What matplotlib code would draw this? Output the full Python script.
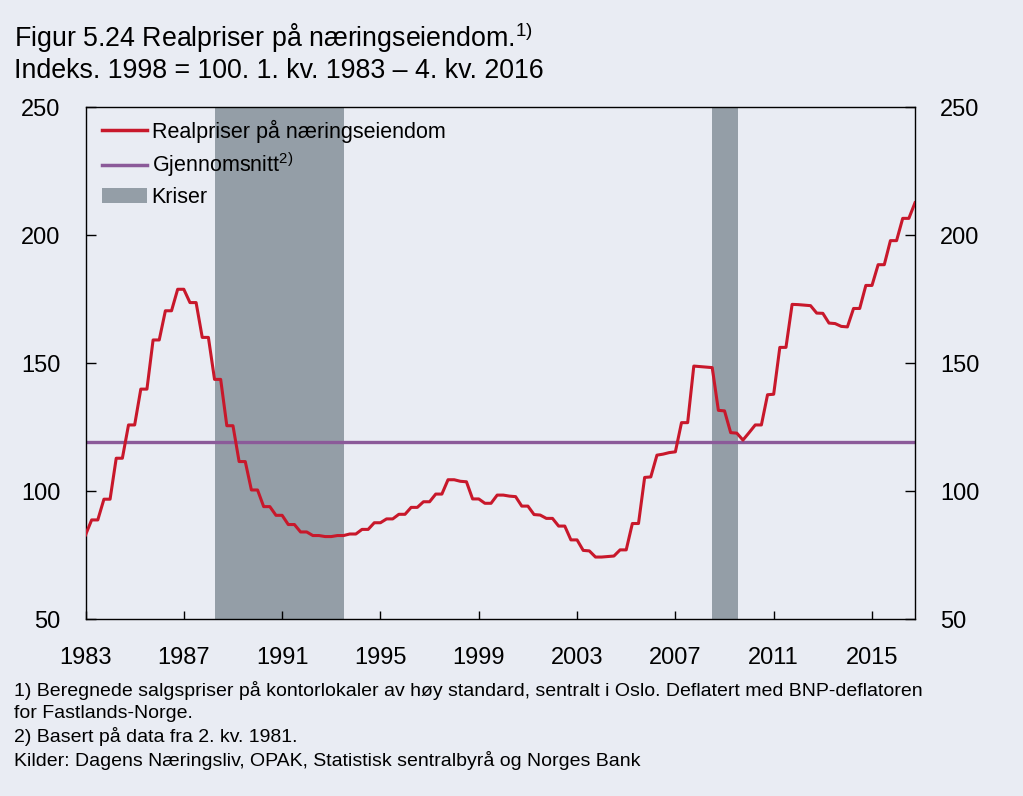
import numpy as np
import matplotlib
matplotlib.use("Agg")
from matplotlib import pyplot as plt
from matplotlib.patches import Patch
from matplotlib.lines import Line2D

plt.rcParams['font.family'] = ['Liberation Sans', 'DejaVu Sans']
plt.rcParams['mathtext.fontset'] = 'custom'
plt.rcParams['mathtext.rm'] = 'Liberation Sans'

# kvartalsvise realpriser, 1. kv. 1983 - 4. kv. 2016
priser = [
    82.8, 88.7, 88.7, 96.8,      # 1983
    96.8, 112.8, 112.8, 125.8,   # 1984
    125.8, 139.8, 139.8, 159.0,  # 1985
    159.0, 170.4, 170.4, 178.8,  # 1986
    178.8, 173.6, 173.6, 160.0,  # 1987
    160.0, 143.6, 143.6, 125.5,  # 1988
    125.5, 111.5, 111.5, 100.4,  # 1989
    100.4, 93.9, 93.9, 90.5,     # 1990
    90.5, 86.9, 86.9, 84.0,      # 1991
    84.0, 82.6, 82.6, 82.2,      # 1992
    82.2, 82.6, 82.6, 83.2,      # 1993
    83.2, 85.0, 85.0, 87.6,      # 1994
    87.6, 89.1, 89.1, 90.9,      # 1995
    90.9, 93.6, 93.6, 95.8,      # 1996
    95.8, 98.8, 98.8, 104.4,     # 1997
    104.4, 103.8, 103.6, 96.9,   # 1998
    96.9, 95.2, 95.2, 98.4,      # 1999
    98.4, 98.0, 97.8, 94.1,      # 2000
    94.1, 90.8, 90.6, 89.3,      # 2001
    89.3, 86.3, 86.3, 80.9,      # 2002
    80.9, 76.8, 76.6, 74.2,      # 2003
    74.2, 74.4, 74.6, 77.0,      # 2004
    77.0, 87.3, 87.3, 105.3,     # 2005
    105.5, 114.0, 114.4, 115.0,  # 2006
    115.3, 126.7, 126.7, 148.8,  # 2007
    148.6, 148.4, 148.2, 131.5,  # 2008
    131.3, 122.8, 122.6, 119.9,  # 2009
    122.8, 125.8, 125.8, 137.6,  # 2010
    137.8, 156.1, 156.1, 172.9,  # 2011
    172.8, 172.6, 172.4, 169.5,  # 2012
    169.4, 165.6, 165.4, 164.3,  # 2013
    164.1, 171.3, 171.3, 180.3,  # 2014
    180.3, 188.4, 188.4, 197.8,  # 2015
    197.8, 206.5, 206.5, 212.6,  # 2016
]
startaar = 1983
snitt = 119.2
kriser = [(1988.25, 1993.5), (2008.5, 2009.55)]
xticks = [1983, 1987, 1991, 1995, 1999, 2003, 2007, 2011, 2015]
yticks = [50, 100, 150, 200, 250]

bg = '#E9ECF3'
rod = '#C8182B'
lilla = '#8B5A99'
gra = '#949EA7'

x = startaar + np.arange(len(priser)) / 4.0

fig = plt.figure(figsize=(10.23, 7.96), dpi=100, facecolor=bg)
ax = fig.add_axes([85.5/1023, 1 - 619/796, 829.5/1023, 512/796])
ax.set_facecolor(bg)

for a, b in kriser:
    ax.axvspan(a, b, color=gra, lw=0, zorder=1)
ax.axhline(snitt, color=lilla, lw=2.4, zorder=2)
ax.plot(x, priser, color=rod, lw=2.2, zorder=3)

ax.set_xlim(1983, 2016.75)
ax.set_ylim(50, 250)
ax.set_xticks(xticks)
ax.set_yticks(yticks)
ax.tick_params(axis='both', direction='in', labelsize=17, width=1, color='black')
ax.tick_params(axis='y', length=7, pad=18, left=True, right=True, labelleft=True, labelright=True)
ax.tick_params(axis='x', length=6, pad=20)
for s in ax.spines.values():
    s.set_linewidth(1)
    s.set_color('black')

handles = [Line2D([], [], color=rod, lw=2.5),
           Line2D([], [], color=lilla, lw=2.5),
           Patch(facecolor=gra, edgecolor='none')]
labels = ['Realpriser på næringseiendom', 'Gjennomsnitt$^{2)}$', 'Kriser']
ax.legend(handles, labels, loc='upper left', bbox_to_anchor=(0.0199, 0.975),
          frameon=False, fontsize=15.5, handlelength=2.1, handletextpad=0.2,
          labelspacing=0.36, borderpad=0, borderaxespad=0, handleheight=0.75)

fig.text(14/1023, 1 - 47/796, 'Figur 5.24 Realpriser på næringseiendom.$^{1)}$',
         fontsize=19.3, va='baseline', ha='left')
fig.text(14/1023, 1 - 78/796, 'Indeks. 1998 = 100. 1. kv. 1983 – 4. kv. 2016',
         fontsize=19.3, va='baseline', ha='left')

noter = ['1) Beregnede salgspriser på kontorlokaler av høy standard, sentralt i Oslo. Deflatert med BNP-deflatoren',
         'for Fastlands-Norge.',
         '2) Basert på data fra 2. kv. 1981.',
         'Kilder: Dagens Næringsliv, OPAK, Statistisk sentralbyrå og Norges Bank']
ys = [690, 713, 737, 760]
for t, yy in zip(noter, ys):
    fig.text(14/1023, 1 - yy/796, t, fontsize=14, va='center', ha='left')

fig.savefig('out.png', dpi=100, facecolor=bg)
